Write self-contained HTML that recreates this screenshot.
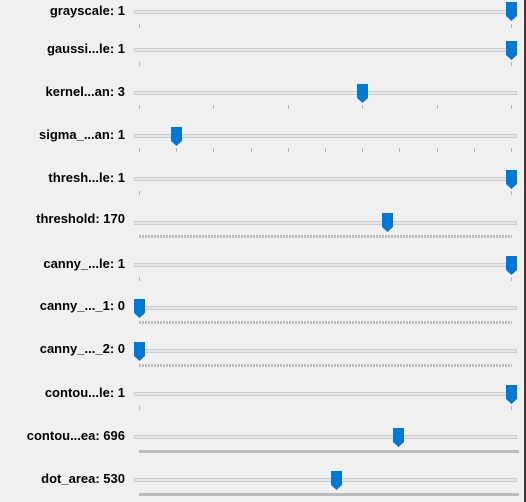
<!DOCTYPE html>
<html><head><style>
body{margin:0;width:526px;height:502px;background:#f0f0f0;position:relative;overflow:hidden;font-family:"Liberation Sans",Arial,sans-serif;}
.l{position:absolute;right:401px;font-size:13px;font-weight:bold;color:#000;white-space:nowrap;line-height:14px;}
.t{position:absolute;left:134px;width:381px;height:2px;border:1px solid #cdcdcd;background:#e6e6e6;}
.k{position:absolute;width:1px;height:4px;background:#b5b5b5;}
.d{position:absolute;left:139px;width:373px;height:3px;background:repeating-linear-gradient(90deg,#bcbcbc 0 2px,transparent 2px 3px);}
.b{position:absolute;left:139px;width:380px;height:3px;background:#bcbcbc;}
svg.h{position:absolute;width:11px;height:19px;}
.edge{position:absolute;right:0;top:0;width:2px;height:502px;background:#3a3a3a;}
</style></head><body>
<div class="edge"></div>

<div class="l" style="top:4px">grayscale: 1</div>
<div class="t" style="top:10px"></div>
<div class="k" style="left:139px;top:24px"></div><div class="k" style="left:511px;top:24px"></div>
<svg class="h" style="left:506px;top:2px" viewBox="0 0 11 19"><polygon points="0,0 11,0 11,14 5.5,19 0,14" fill="#0078d7"/></svg>

<div class="l" style="top:42px">gaussi...le: 1</div>
<div class="t" style="top:48px"></div>
<div class="k" style="left:139px;top:62px"></div><div class="k" style="left:511px;top:62px"></div>
<svg class="h" style="left:506px;top:41px" viewBox="0 0 11 19"><polygon points="0,0 11,0 11,14 5.5,19 0,14" fill="#0078d7"/></svg>

<div class="l" style="top:85px">kernel...an: 3</div>
<div class="t" style="top:91px"></div>
<div class="k" style="left:139px;top:105px"></div><div class="k" style="left:213px;top:105px"></div><div class="k" style="left:288px;top:105px"></div><div class="k" style="left:362px;top:105px"></div><div class="k" style="left:437px;top:105px"></div><div class="k" style="left:511px;top:105px"></div>
<svg class="h" style="left:357px;top:84px" viewBox="0 0 11 19"><polygon points="0,0 11,0 11,14 5.5,19 0,14" fill="#0078d7"/></svg>

<div class="l" style="top:128px">sigma_...an: 1</div>
<div class="t" style="top:134px"></div>
<div class="k" style="left:139px;top:148px"></div><div class="k" style="left:176px;top:148px"></div><div class="k" style="left:213px;top:148px"></div><div class="k" style="left:251px;top:148px"></div><div class="k" style="left:288px;top:148px"></div><div class="k" style="left:325px;top:148px"></div><div class="k" style="left:362px;top:148px"></div><div class="k" style="left:399px;top:148px"></div><div class="k" style="left:437px;top:148px"></div><div class="k" style="left:474px;top:148px"></div><div class="k" style="left:511px;top:148px"></div>
<svg class="h" style="left:171px;top:127px" viewBox="0 0 11 19"><polygon points="0,0 11,0 11,14 5.5,19 0,14" fill="#0078d7"/></svg>

<div class="l" style="top:171px">thresh...le: 1</div>
<div class="t" style="top:177px"></div>
<div class="k" style="left:139px;top:191px"></div><div class="k" style="left:511px;top:191px"></div>
<svg class="h" style="left:506px;top:170px" viewBox="0 0 11 19"><polygon points="0,0 11,0 11,14 5.5,19 0,14" fill="#0078d7"/></svg>

<div class="l" style="top:212px">threshold: 170</div>
<div class="t" style="top:221px"></div>
<div class="d" style="top:235px"></div>
<svg class="h" style="left:382px;top:213px" viewBox="0 0 11 19"><polygon points="0,0 11,0 11,14 5.5,19 0,14" fill="#0078d7"/></svg>

<div class="l" style="top:257px">canny_...le: 1</div>
<div class="t" style="top:263px"></div>
<div class="k" style="left:139px;top:277px"></div><div class="k" style="left:511px;top:277px"></div>
<svg class="h" style="left:506px;top:256px" viewBox="0 0 11 19"><polygon points="0,0 11,0 11,14 5.5,19 0,14" fill="#0078d7"/></svg>

<div class="l" style="top:299px">canny_..._1: 0</div>
<div class="t" style="top:306px"></div>
<div class="d" style="top:321px"></div>
<svg class="h" style="left:134px;top:299px" viewBox="0 0 11 19"><polygon points="0,0 11,0 11,14 5.5,19 0,14" fill="#0078d7"/></svg>

<div class="l" style="top:342px">canny_..._2: 0</div>
<div class="t" style="top:349px"></div>
<div class="d" style="top:364px"></div>
<svg class="h" style="left:134px;top:342px" viewBox="0 0 11 19"><polygon points="0,0 11,0 11,14 5.5,19 0,14" fill="#0078d7"/></svg>

<div class="l" style="top:386px">contou...le: 1</div>
<div class="t" style="top:392px"></div>
<div class="k" style="left:139px;top:406px"></div><div class="k" style="left:511px;top:406px"></div>
<svg class="h" style="left:506px;top:385px" viewBox="0 0 11 19"><polygon points="0,0 11,0 11,14 5.5,19 0,14" fill="#0078d7"/></svg>

<div class="l" style="top:429px">contou...ea: 696</div>
<div class="t" style="top:435px"></div>
<div class="b" style="top:450px"></div>
<svg class="h" style="left:393px;top:428px" viewBox="0 0 11 19"><polygon points="0,0 11,0 11,14 5.5,19 0,14" fill="#0078d7"/></svg>

<div class="l" style="top:472px">dot_area: 530</div>
<div class="t" style="top:478px"></div>
<div class="b" style="top:493px"></div>
<svg class="h" style="left:331px;top:471px" viewBox="0 0 11 19"><polygon points="0,0 11,0 11,14 5.5,19 0,14" fill="#0078d7"/></svg>
</body></html>
